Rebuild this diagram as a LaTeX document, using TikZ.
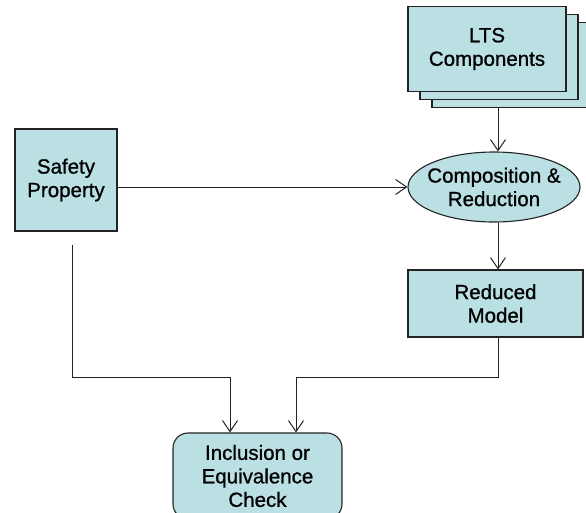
\documentclass[tikz,border=0pt]{standalone}
\usepackage{fontspec}
\setmainfont{Liberation Sans}
\newfontfamily\heavyfont[FakeBold=0.9]{Liberation Sans}
\usetikzlibrary{shapes.geometric,arrows.meta}
\definecolor{boxfill}{RGB}{186,224,228}
\definecolor{boxline}{RGB}{35,35,35}
\begin{document}
\begin{tikzpicture}[x=1pt,y=-1pt,
  txt/.style={align=center, font=\heavyfont\fontsize{20.5}{23.5}\selectfont, inner sep=0pt},
  blk/.style={draw=boxline, fill=boxfill, line width=1.1pt, txt},
  conn/.style={draw=boxline, line width=1pt},
  arr/.style={conn, -{Straight Barb[length=11pt,width=15pt,line width=1pt]}}]
\useasboundingbox (0,0) rectangle (586,512);
% LTS stack
\node[blk, minimum width=158pt, minimum height=85pt] (lts3) at (511,65) {};
\node[blk, minimum width=158pt, minimum height=85pt] (lts2) at (499,57) {};
\node[blk, minimum width=158pt, minimum height=85pt] (lts1) at (487,49) {LTS\\Components};
% composition ellipse
\node[blk, ellipse, minimum width=172pt, minimum height=70pt] (comp) at (494,187) {};
\node[txt] (comptxt) at (comp.center) {Composition \&\\Reduction};
% reduced model
\node[blk, minimum width=175pt, minimum height=67pt] (red) at (495.5,303.5) {Reduced\\Model};
% safety property
\node[blk, minimum width=102pt, minimum height=102pt] (safe) at (66,180) {Safety\\Property};
% check
\node[blk, rounded corners=15pt, minimum width=169pt, minimum height=86pt] (chk) at (257.5,476) {Inclusion or\\Equivalence\\Check};
% connectors
\coordinate (col) at (498,0);
\draw[arr] (col |- lts3.south) -- (col |- comp.north);
\draw[arr] (col |- comp.south) -- (col |- red.north);
\draw[arr] (safe.east |- comp.west) -- (comp.west);
\coordinate (sp) at (72,245);
\coordinate (j1) at (230,377);
\coordinate (j2) at (296,377);
\draw[arr] (sp) |- (j1) -- (j1 |- chk.north);
\draw[arr] (red.south -| col) |- (j2) -- (j2 |- chk.north);
\end{tikzpicture}
\end{document}
